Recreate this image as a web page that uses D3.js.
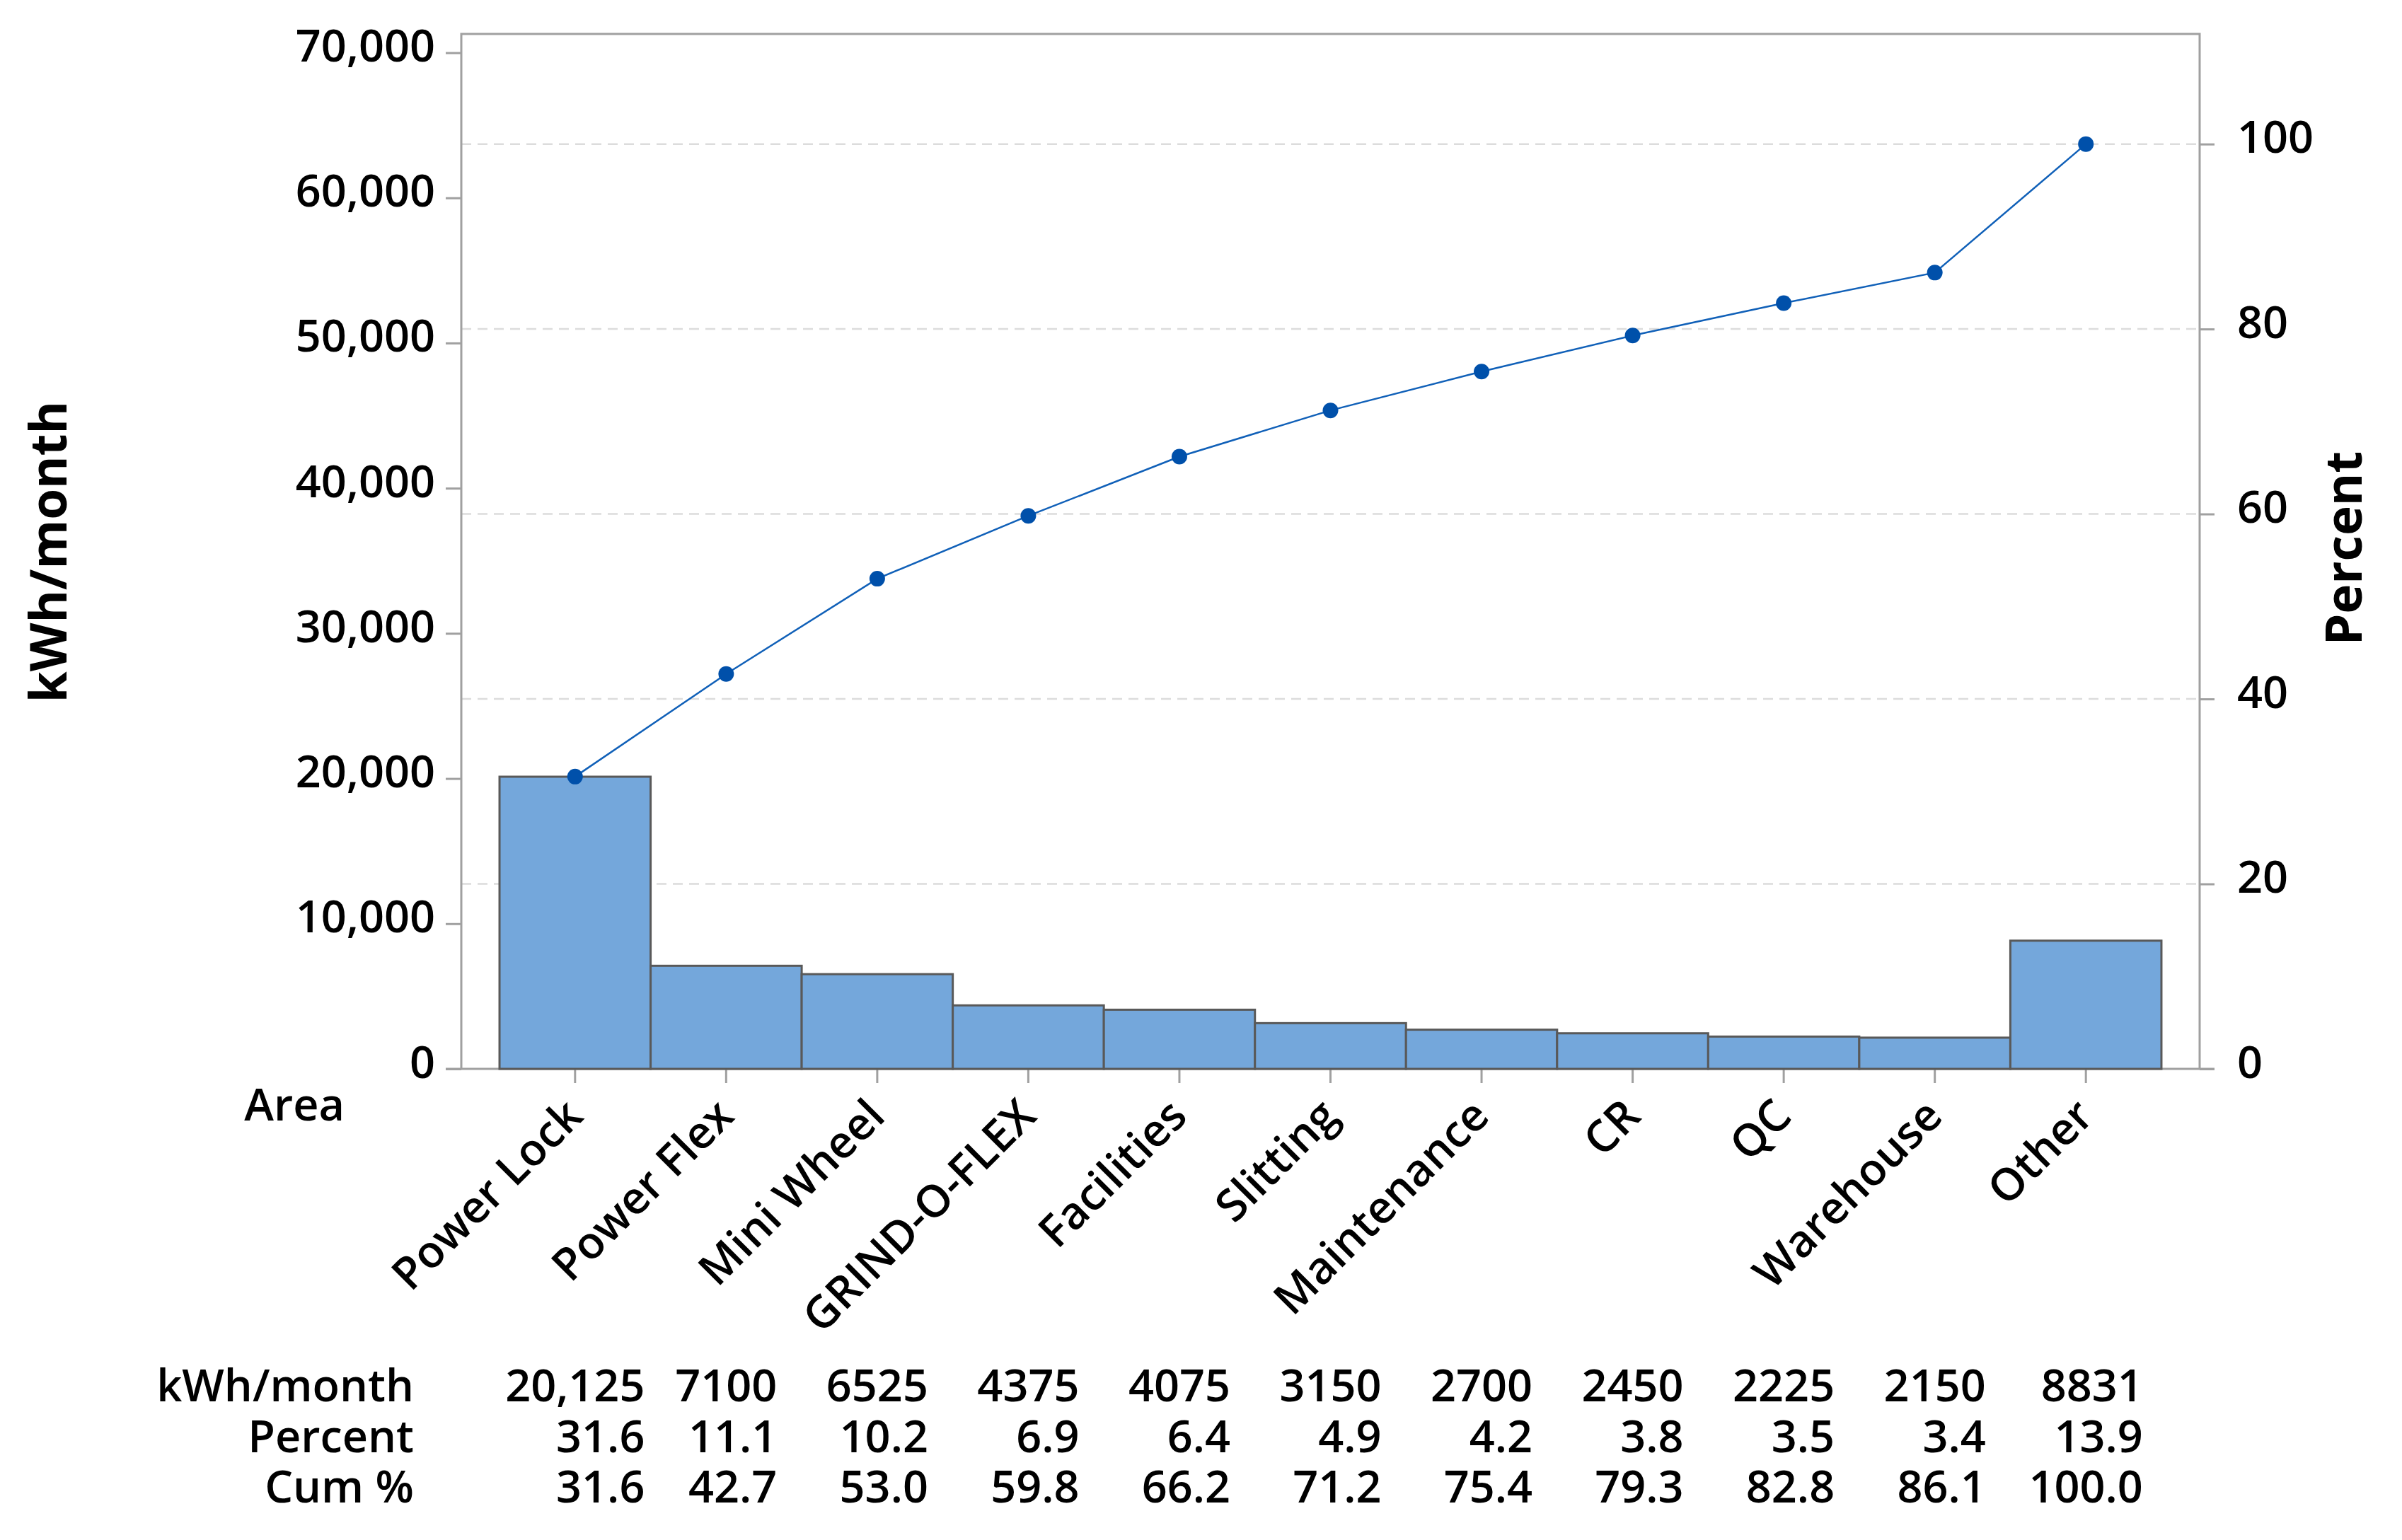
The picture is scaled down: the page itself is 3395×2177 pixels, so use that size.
<!DOCTYPE html>
<html>
<head>
<meta charset="utf-8">
<script src="https://cdn.jsdelivr.net/npm/d3@7"></script>
<style>
  html, body { margin: 0; padding: 0; background: #ffffff; }
  text { font-family: "Open Sans", "Noto Sans", sans-serif; fill: #000000; }
</style>
</head>
<body>
<div id="chart"></div>
<script>
// Pareto data
var areas = ["Power Lock", "Power Flex", "Mini Wheel", "GRIND-O-FLEX", "Facilities",
             "Slitting", "Maintenance", "CR", "QC", "Warehouse", "Other"];
var kwhMonth = [20125, 7100, 6525, 4375, 4075, 3150, 2700, 2450, 2225, 2150, 8831];
var percent = [31.6, 11.1, 10.2, 6.9, 6.4, 4.9, 4.2, 3.8, 3.5, 3.4, 13.9];
var cumPercent = [31.6, 42.7, 53.0, 59.8, 66.2, 71.2, 75.4, 79.3, 82.8, 86.1, 100.0];
var kwhTicks = [0, 10000, 20000, 30000, 40000, 50000, 60000, 70000];
var pctTicks = [0, 20, 40, 60, 80, 100];
var rowLabels = ["kWh/month", "Percent", "Cum %"];

var W = 3395, H = 2177;
var plotLeft = 652, plotRight = 3109, plotTop = 48, plotBottom = 1511;
var frameColor = "#a0a0a0";
var barFill = "#74a7db";
var barStroke = "#595959";
var lineColor = "#1060b8";
var dotColor = "#0050aa";
var fontSize = 63;
var fontWeight = 600;

var total = d3.sum(kwhMonth);

var svg = d3.select("#chart").append("svg")
    .attr("width", W)
    .attr("height", H);

svg.append("rect").attr("width", W).attr("height", H).attr("fill", "#ffffff");

// scales
var x = d3.scaleBand()
    .domain(areas)
    .range([plotLeft, plotRight])
    .paddingInner(0)
    .paddingOuter(0.253);

var y = d3.scaleLinear()
    .domain([0, 71290])
    .range([plotBottom, plotTop]);

var yPct = d3.scaleLinear()
    .domain([0, 100])
    .range([plotBottom, y(total)]);

// dashed percent gridlines
svg.append("g")
    .selectAll("line")
    .data(pctTicks.filter(function (d) { return d > 0; }))
    .join("line")
    .attr("x1", plotLeft)
    .attr("x2", plotRight)
    .attr("y1", function (d) { return yPct(d); })
    .attr("y2", function (d) { return yPct(d); })
    .attr("stroke", "#dcdcdc")
    .attr("stroke-width", 2.5)
    .attr("stroke-dasharray", "14,9");

// frame (left, top, right)
svg.append("path")
    .attr("d", "M" + plotLeft + "," + plotBottom + "V" + plotTop + "H" + plotRight + "V" + plotBottom)
    .attr("fill", "none")
    .attr("stroke", frameColor)
    .attr("stroke-width", 3);

// left axis
var gLeft = svg.append("g")
    .attr("transform", "translate(" + plotLeft + ",0)")
    .call(d3.axisLeft(y)
        .tickValues(kwhTicks)
        .tickFormat(d3.format(","))
        .tickSize(22)
        .tickPadding(15));

// right axis
var gRight = svg.append("g")
    .attr("transform", "translate(" + plotRight + ",0)")
    .call(d3.axisRight(yPct)
        .tickValues(pctTicks)
        .tickSize(21)
        .tickPadding(32));

// bottom axis
var gBottom = svg.append("g")
    .attr("transform", "translate(0," + plotBottom + ")")
    .call(d3.axisBottom(x)
        .tickSize(20)
        .tickSizeOuter(0));

[gLeft, gRight].forEach(function (g) {
    g.select(".domain").remove();
    g.selectAll(".tick line").attr("stroke", frameColor).attr("stroke-width", 3);
    g.selectAll(".tick text")
        .attr("font-size", fontSize)
        .attr("font-weight", fontWeight)
        .attr("dy", 12)
        .attr("fill", "#000");
});

gBottom.select(".domain")
    .attr("d", "M" + (plotLeft - 22) + ",0H" + (plotRight + 21))
    .attr("stroke", frameColor)
    .attr("stroke-width", 3);
gBottom.selectAll(".tick line").attr("stroke", frameColor).attr("stroke-width", 3);
gBottom.selectAll(".tick text")
    .attr("font-size", fontSize)
    .attr("font-weight", fontWeight)
    .attr("fill", "#000")
    .attr("x", 0)
    .attr("y", 0)
    .attr("dy", 0)
    .attr("text-anchor", "end")
    .attr("transform", "translate(14,70) rotate(-45)");

// bars, on top of the axis line
svg.append("g")
    .selectAll("rect")
    .data(kwhMonth)
    .join("rect")
    .attr("x", function (d, i) { return x(areas[i]); })
    .attr("y", function (d) { return y(d); })
    .attr("width", x.bandwidth())
    .attr("height", function (d) { return plotBottom - y(d); })
    .attr("fill", barFill)
    .attr("stroke", barStroke)
    .attr("stroke-width", 3);

// cumulative line
var line = d3.line()
    .x(function (d, i) { return x(areas[i]) + x.bandwidth() / 2; })
    .y(function (d) { return yPct(d); });

svg.append("path")
    .datum(cumPercent)
    .attr("d", line)
    .attr("fill", "none")
    .attr("stroke", lineColor)
    .attr("stroke-width", 2.5);

svg.append("g")
    .selectAll("circle")
    .data(cumPercent)
    .join("circle")
    .attr("cx", function (d, i) { return x(areas[i]) + x.bandwidth() / 2; })
    .attr("cy", function (d) { return yPct(d); })
    .attr("r", 11)
    .attr("fill", dotColor);

// axis titles
svg.append("text")
    .attr("transform", "translate(94,780) rotate(-90)")
    .attr("text-anchor", "middle")
    .attr("font-size", 71)
    .attr("font-weight", "bold")
    .text("kWh/month");

svg.append("text")
    .attr("transform", "translate(3338,775) rotate(-90)")
    .attr("text-anchor", "middle")
    .attr("font-size", 71)
    .attr("font-weight", "bold")
    .text("Percent");

svg.append("text")
    .attr("x", 487)
    .attr("y", 1584)
    .attr("text-anchor", "end")
    .attr("font-size", fontSize)
    .attr("font-weight", fontWeight)
    .text("Area");

// data table under the chart
var rowY = [1981, 2053, 2124];
var fmtKwh = function (v) { return v >= 10000 ? d3.format(",")(v) : String(v); };
var rows = [
    kwhMonth.map(fmtKwh),
    percent.map(function (v) { return v.toFixed(1); }),
    cumPercent.map(function (v) { return v.toFixed(1); })
];

var gTable = svg.append("g");
gTable.selectAll("text.rowlabel")
    .data(rowLabels)
    .join("text")
    .attr("class", "rowlabel")
    .attr("x", 585)
    .attr("y", function (d, i) { return rowY[i]; })
    .attr("text-anchor", "end")
    .attr("font-size", fontSize)
    .attr("font-weight", fontWeight)
    .text(function (d) { return d; });

areas.forEach(function (a, c) {
    var cx = x(a) + x.bandwidth() / 2;
    var col = gTable.append("g");
    var texts = col.selectAll("text")
        .data(rows.map(function (r) { return r[c]; }))
        .join("text")
        .attr("y", function (d, i) { return rowY[i]; })
        .attr("text-anchor", "end")
        .attr("font-size", fontSize)
        .attr("font-weight", fontWeight)
        .text(function (d) { return d; });
    var maxW = 0;
    texts.each(function () { maxW = Math.max(maxW, this.getComputedTextLength()); });
    texts.attr("x", cx + maxW / 2);
});
</script>
</body>
</html>
